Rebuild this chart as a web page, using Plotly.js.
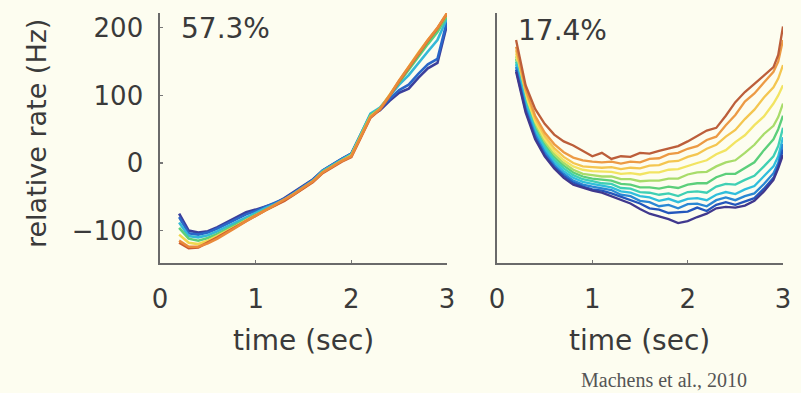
<!DOCTYPE html>
<html>
<head>
<meta charset="utf-8">
<script src="https://cdn.plot.ly/plotly-3.0.1.min.js"></script>
<style>html,body{margin:0;padding:0;background:#fdfdf0;}</style>
</head>
<body>
<div id="chart" style="width:801px;height:393px;"></div>
<script>
// time samples (sec)
const time = [0.2,0.3,0.4,0.5,0.6,0.7,0.8,0.9,1.0,1.1,1.2,1.3,1.4,1.5,1.6,1.7,1.8,1.9,2.0,2.1,2.2,2.3,2.4,2.5,2.6,2.7,2.8,2.9,2.95,3.0];

// Left panel (57.3%) relative rate (Hz)
const leftNavy   = [-75,-100,-103,-101,-95,-88,-81,-73,-69,-64,-60,-52,-43,-34,-24,-11,-2,6,14,42,70,78,92,104,110,126,140,148,176,205];
const leftBlue   = [-80,-104,-106,-103,-97,-90,-83,-76,-71,-65,-60,-53,-44,-35,-25,-11,-2,6,14,43,72,80,95,108,116,132,146,154,180,210];
const leftCyan   = [-88,-108,-110,-107,-101,-94,-87,-80,-74,-67,-61,-54,-45,-36,-26,-12,-3,5,13,44,73,82,99,116,130,148,165,182,198,214];
const leftGreen  = [-96,-112,-115,-111,-105,-98,-90,-83,-76,-69,-62,-55,-46,-37,-27,-13,-4,4,12,42,71,81,100,120,138,158,176,194,206,217];
const leftYellow = [-106,-118,-120,-115,-108,-101,-93,-85,-77,-70,-63,-55,-46,-37,-27,-14,-5,3,11,40,69,80,101,123,143,163,182,199,210,220];
const leftRed    = [-118,-126,-125,-118,-110,-102,-94,-85,-77,-70,-63,-56,-47,-37,-28,-15,-6,2,9,38,67,79,99,121,141,161,181,199,211,221];
const leftOrange = [-115,-124,-124,-119,-112,-104,-95,-86,-78,-70,-63,-55,-46,-36,-27,-14,-5,3,10,39,68,80,100,122,142,162,182,200,212,222];

// Right panel (17.4%) relative rate (Hz)
const rightNavy    = [135,75,35,10,-8,-22,-32,-37,-41,-44,-49,-54,-60,-68,-75,-79,-83,-89,-86,-80,-75,-67,-65,-66,-63,-56,-42,-25,-8,12];
const rightBlue    = [138,78,38,12,-6,-19,-29,-35,-39,-41,-45,-50,-55,-60,-67,-69,-74,-73,-72,-66,-71,-62,-58,-62,-57,-52,-38,-22,-5,20];
const rightAzure   = [142,82,42,16,-3,-16,-26,-32,-35,-38,-40,-47,-49,-56,-58,-64,-62,-67,-61,-60,-64,-55,-51,-55,-49,-45,-31,-15,0,28];
const rightCyan    = [146,86,46,20,1,-12,-22,-28,-31,-34,-36,-42,-44,-49,-51,-56,-53,-58,-53,-52,-55,-47,-43,-46,-39,-34,-19,-5,10,38];
const rightAqua    = [150,90,50,24,5,-8,-18,-24,-27,-30,-31,-37,-38,-43,-44,-47,-45,-49,-43,-42,-44,-35,-31,-32,-25,-19,-5,10,25,52];
const rightGreen   = [154,94,54,28,9,-4,-14,-20,-23,-25,-26,-31,-32,-36,-36,-38,-35,-37,-32,-30,-30,-21,-16,-16,-7,1,19,35,50,70];
const rightLime    = [158,98,58,32,13,0,-10,-16,-18,-20,-20,-24,-24,-27,-26,-26,-23,-23,-17,-14,-13,-5,1,4,15,27,43,55,68,88];
const rightYellow  = [162,102,62,36,17,4,-5,-10,-12,-13,-13,-16,-15,-17,-14,-14,-10,-9,-4,0,4,13,19,31,41,56,69,88,100,115];
const rightGold    = [167,106,66,40,22,9,0,-5,-6,-7,-6,-9,-7,-8,-4,-3,2,3,9,13,21,27,39,49,65,79,97,112,125,145];
const rightOrange  = [172,110,70,45,28,16,8,4,2,1,2,-1,2,1,6,7,13,15,21,25,34,39,56,71,91,103,119,135,150,182];
const rightDarkRed = [182,115,80,58,42,32,26,18,10,15,6,10,9,15,14,18,22,25,32,40,48,52,70,90,105,117,130,142,160,202];

const yTicks = [-100,0,100,200];
const xTicks = [0,1,2,3];

const leftSeries = [
  [leftNavy,'#3b3f9c'],[leftBlue,'#2a66c8'],[leftCyan,'#34b8d8'],[leftGreen,'#5ccf7a'],
  [leftYellow,'#f0d850'],[leftRed,'#cc5a30'],[leftOrange,'#e98a3a']
];
const rightSeries = [
  [rightGreen,'#5ccf7a'],[rightLime,'#a8dc6a'],[rightYellow,'#f2e462'],[rightGold,'#f4c650'],
  [rightOrange,'#ec9a44'],[rightDarkRed,'#bc5e3a'],
  [rightAqua,'#3fd0b4'],[rightCyan,'#30bedc'],[rightAzure,'#2a88d4'],[rightBlue,'#2456bc'],[rightNavy,'#40388e']
];

const traces = [];
leftSeries.forEach(([y,c]) => traces.push({x:time, y:y, type:'scatter', mode:'lines', xaxis:'x', yaxis:'y', line:{color:c, width:2.6}, hoverinfo:'skip'}));
rightSeries.forEach(([y,c]) => traces.push({x:time, y:y, type:'scatter', mode:'lines', xaxis:'x2', yaxis:'y2', line:{color:c, width:2.3}, hoverinfo:'skip'}));

const W = 801, H = 393;
const px = v => v / W, py = v => 1 - v / H;
const axisCommon = {
  showline:true, linecolor:'#6a6a6a', linewidth:1.6, showgrid:false, zeroline:false,
  ticks:'inside', ticklen:3, tickcolor:'#777', tickwidth:1.2,
  tickfont:{size:26, color:'#3a3a3a', family:'DejaVu Sans'}
};
const yDomain = [1 - 263/H, 1 - 13/H];

const layout = {
  width:W, height:H, margin:{l:0,r:0,t:0,b:0},
  paper_bgcolor:'#fdfdf0', plot_bgcolor:'#fdfdf0', showlegend:false,
  font:{family:'DejaVu Sans', color:'#3a3a3a'},
  xaxis:Object.assign({}, axisCommon, {domain:[px(160), px(447)], range:[0,3], tickvals:xTicks, anchor:'y', ticklabelstandoff:12}),
  yaxis:Object.assign({}, axisCommon, {domain:yDomain, range:[-148,222], tickvals:yTicks, anchor:'x', ticklabelstandoff:10}),
  xaxis2:Object.assign({}, axisCommon, {domain:[px(497), px(783)], range:[0,3], tickvals:xTicks, anchor:'y2', ticklabelstandoff:12}),
  yaxis2:Object.assign({}, axisCommon, {domain:yDomain, range:[-148,222], tickvals:yTicks, anchor:'x2', showticklabels:false, ticks:''}),
  annotations:[
    {text:'57.3%', xref:'paper', yref:'paper', x:px(179), y:py(29), xanchor:'left', yanchor:'middle', showarrow:false, font:{size:28, color:'#3a3a3a', family:'DejaVu Sans'}},
    {text:'17.4%', xref:'paper', yref:'paper', x:px(516), y:py(30), xanchor:'left', yanchor:'middle', showarrow:false, font:{size:28, color:'#3a3a3a', family:'DejaVu Sans'}},
    {text:'relative rate (Hz)', xref:'paper', yref:'paper', x:px(36), y:py(134), xanchor:'center', yanchor:'middle', textangle:-90, showarrow:false, font:{size:27, color:'#3a3a3a', family:'DejaVu Sans'}},
    {text:'time (sec)', xref:'paper', yref:'paper', x:px(303), y:py(340), xanchor:'center', yanchor:'middle', showarrow:false, font:{size:28, color:'#3a3a3a', family:'DejaVu Sans'}},
    {text:'time (sec)', xref:'paper', yref:'paper', x:px(639), y:py(340), xanchor:'center', yanchor:'middle', showarrow:false, font:{size:28, color:'#3a3a3a', family:'DejaVu Sans'}},
    {text:'Machens et al., 2010', xref:'paper', yref:'paper', x:px(664), y:py(380), xanchor:'center', yanchor:'middle', showarrow:false, font:{size:20, color:'#555', family:'Liberation Serif'}}
  ]
};

Plotly.newPlot('chart', traces, layout, {staticPlot:true, displayModeBar:false});
</script>
</body>
</html>
